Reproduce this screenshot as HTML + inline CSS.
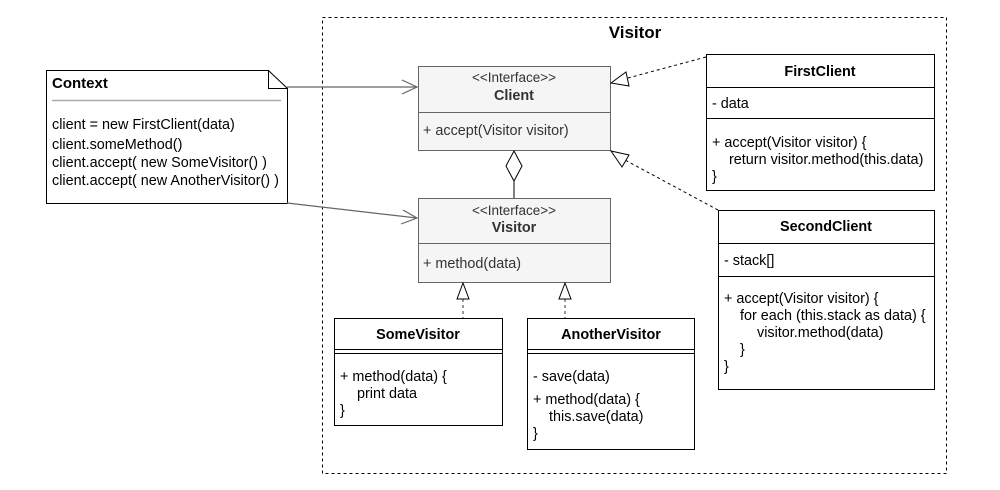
<!DOCTYPE html>
<html><head><meta charset="utf-8"><style>body{margin:0;background:#fff}svg{display:block;font-family:"Liberation Sans",Arial,sans-serif}</style></head><body>
<svg width="1000" height="490" viewBox="0 0 1000 490" xmlns="http://www.w3.org/2000/svg">
<rect x="322.5" y="17.5" width="624" height="456" fill="none" stroke="#000" stroke-dasharray="3,3"/>
<text x="635" y="38" font-size="17" font-weight="bold" text-anchor="middle">Visitor</text>
<path d="M46.5 70.5 H268.5 L287.5 88.5 V203.5 H46.5 Z" fill="#fff" stroke="#000"/>
<path d="M268.5 70.5 V88.5 H287.5" fill="none" stroke="#000"/>
<text x="52" y="88" font-size="15" font-weight="bold">Context</text>
<line x1="52" y1="100.5" x2="281" y2="100.5" stroke="#aaa" stroke-width="1.5"/>
<g font-size="14.4"><text x="52" y="129">client = new FirstClient(data)</text><text x="52" y="149">client.someMethod()</text><text x="52" y="167">client.accept( new SomeVisitor() )</text><text x="52" y="185">client.accept( new AnotherVisitor() )</text></g>
<g stroke="#666" fill="none" stroke-width="1.2"><line x1="287" y1="87" x2="417" y2="87"/><path d="M402 80 L417 87 L402 94"/><line x1="287" y1="203" x2="417" y2="218"/><path d="M403 210 L417 218 L401 224"/></g>
<rect x="418.5" y="66.5" width="192" height="84" fill="#f5f5f5" stroke="#666"/>
<line x1="418" y1="112.5" x2="610" y2="112.5" stroke="#666"/>
<text x="514" y="82" font-size="13.5" text-anchor="middle" fill="#333">&lt;&lt;Interface&gt;&gt;</text>
<text x="514" y="100" font-size="14.4" font-weight="bold" text-anchor="middle" fill="#333">Client</text>
<text x="423" y="135" font-size="14.4" fill="#333">+ accept(Visitor visitor)</text>
<path d="M514 151 L522 166 L514 181 L506 166 Z" fill="#fff" stroke="#000"/>
<line x1="514" y1="181" x2="514" y2="198" stroke="#000"/>
<rect x="418.5" y="198.5" width="192" height="84" fill="#f5f5f5" stroke="#666"/>
<line x1="418" y1="243.5" x2="610" y2="243.5" stroke="#666"/>
<text x="514" y="215" font-size="13.5" text-anchor="middle" fill="#333">&lt;&lt;Interface&gt;&gt;</text>
<text x="514" y="232" font-size="14.4" font-weight="bold" text-anchor="middle" fill="#333">Visitor</text>
<text x="423" y="268" font-size="14.4" fill="#333">+ method(data)</text>
<g stroke="#000" fill="#fff"><line x1="706" y1="57" x2="628" y2="78" stroke-dasharray="3,3"/><path d="M611 83 L626 72 L629 86 Z"/>
<line x1="718" y1="210" x2="625" y2="160" stroke-dasharray="3,3"/><path d="M611 151 L629 155 L622 167 Z"/>
<line x1="463" y1="299" x2="463" y2="318" stroke-dasharray="3,3" stroke="#333"/><path d="M463 283 L469 299 L457 299 Z"/>
<line x1="565" y1="299" x2="565" y2="318" stroke-dasharray="3,3" stroke="#333"/><path d="M565 283 L571 299 L559 299 Z"/></g>
<rect x="706.5" y="54.5" width="228" height="136" fill="#fff" stroke="#000"/>
<line x1="706" y1="87.5" x2="934" y2="87.5" stroke="#000"/><line x1="706" y1="118.5" x2="934" y2="118.5" stroke="#000"/>
<text x="820" y="76" font-size="14.4" font-weight="bold" text-anchor="middle">FirstClient</text>
<g font-size="14.4"><text x="712" y="108">- data</text><text x="712" y="147">+ accept(Visitor visitor) {</text><text x="729" y="164">return visitor.method(this.data)</text><text x="712" y="181">}</text></g>
<rect x="718.5" y="210.5" width="216" height="179" fill="#fff" stroke="#000"/>
<line x1="718" y1="243.5" x2="934" y2="243.5" stroke="#000"/><line x1="718" y1="276.5" x2="934" y2="276.5" stroke="#000"/>
<text x="826" y="231" font-size="14.4" font-weight="bold" text-anchor="middle">SecondClient</text>
<g font-size="14.4"><text x="724" y="265">- stack[]</text><text x="724" y="303">+ accept(Visitor visitor) {</text><text x="740" y="320">for each (this.stack as data) {</text><text x="757" y="337">visitor.method(data)</text><text x="740" y="354">}</text><text x="724" y="371">}</text></g>
<rect x="334.5" y="318.5" width="168" height="107" fill="#fff" stroke="#000"/>
<line x1="334" y1="349.5" x2="502" y2="349.5" stroke="#000"/><line x1="334" y1="353.5" x2="502" y2="353.5" stroke="#000"/>
<text x="418" y="339" font-size="14.4" font-weight="bold" text-anchor="middle">SomeVisitor</text>
<g font-size="14.4"><text x="340" y="381">+ method(data) {</text><text x="357" y="398">print data</text><text x="340" y="415">}</text></g>
<rect x="527.5" y="318.5" width="167" height="131" fill="#fff" stroke="#000"/>
<line x1="527" y1="349.5" x2="694" y2="349.5" stroke="#000"/><line x1="527" y1="353.5" x2="694" y2="353.5" stroke="#000"/>
<text x="611" y="339" font-size="14.4" font-weight="bold" text-anchor="middle">AnotherVisitor</text>
<g font-size="14.4"><text x="533" y="381">- save(data)</text><text x="533" y="404">+ method(data) {</text><text x="549" y="421">this.save(data)</text><text x="533" y="438">}</text></g>
</svg>
</body></html>
